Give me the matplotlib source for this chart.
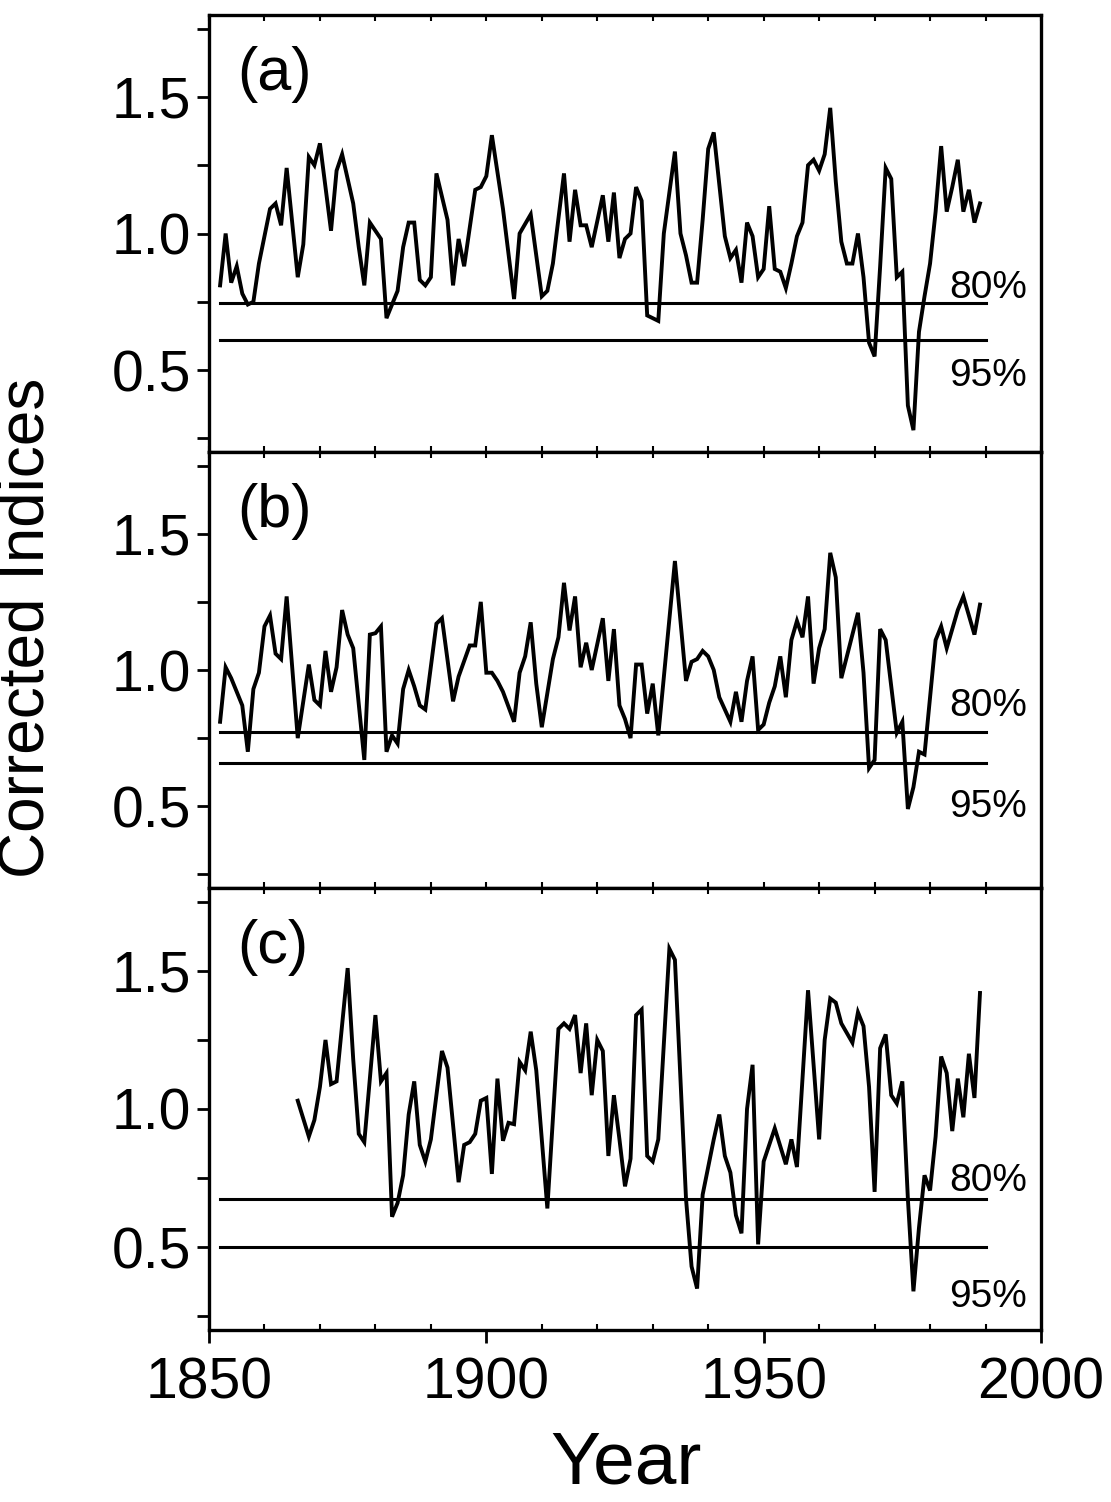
import matplotlib.pyplot as plt
from matplotlib.ticker import FixedLocator, MultipleLocator

plt.rcParams['font.family'] = ['Liberation Sans', 'DejaVu Sans']

# Panel (a)
years_a = [1852, 1853, 1854, 1855, 1856, 1857, 1858, 1859, 1861, 1862, 1863, 1864,
           1866, 1867, 1868, 1869, 1870, 1872, 1873, 1874, 1876, 1877, 1878, 1879,
           1881, 1882, 1884, 1885, 1886, 1887, 1888, 1889, 1890, 1891, 1893, 1894,
           1895, 1896, 1898, 1899, 1900, 1901, 1903, 1905, 1906, 1908, 1910, 1911,
           1912, 1914, 1915, 1916, 1917, 1918, 1919, 1921, 1922, 1923, 1924, 1925,
           1926, 1927, 1928, 1929, 1931, 1932, 1934, 1935, 1936, 1937, 1938, 1939,
           1940, 1941, 1942, 1943, 1944, 1945, 1946, 1947, 1948, 1949, 1950, 1951,
           1952, 1953, 1954, 1955, 1956, 1957, 1958, 1959, 1960, 1961, 1962, 1963,
           1964, 1965, 1966, 1967, 1968, 1969, 1970, 1971, 1972, 1973, 1974, 1975,
           1976, 1977, 1978, 1979, 1980, 1981, 1982, 1983, 1984, 1985, 1986, 1987,
           1988, 1989]
index_a = [0.81, 1.00, 0.82, 0.88, 0.78, 0.74, 0.75, 0.89, 1.09, 1.11, 1.03, 1.24,
           0.84, 0.96, 1.28, 1.25, 1.33, 1.01, 1.23, 1.29, 1.11, 0.95, 0.81, 1.04,
           0.98, 0.69, 0.79, 0.95, 1.04, 1.04, 0.83, 0.81, 0.84, 1.22, 1.05, 0.81,
           0.98, 0.88, 1.16, 1.17, 1.21, 1.36, 1.09, 0.76, 1.00, 1.07, 0.77, 0.79,
           0.89, 1.22, 0.97, 1.16, 1.03, 1.03, 0.95, 1.14, 0.97, 1.15, 0.91, 0.98,
           1.00, 1.17, 1.12, 0.70, 0.68, 1.00, 1.30, 1.00, 0.92, 0.82, 0.82, 1.05,
           1.31, 1.37, 1.18, 0.99, 0.91, 0.94, 0.82, 1.04, 0.99, 0.84, 0.87, 1.10,
           0.87, 0.86, 0.80, 0.89, 0.99, 1.04, 1.25, 1.27, 1.23, 1.29, 1.46, 1.19,
           0.97, 0.89, 0.89, 1.00, 0.84, 0.60, 0.55, 0.88, 1.24, 1.20, 0.84, 0.86,
           0.37, 0.28, 0.64, 0.77, 0.89, 1.08, 1.32, 1.08, 1.17, 1.27, 1.08, 1.16,
           1.04, 1.11]

# Panel (b)
years_b = [1852, 1853, 1854, 1855, 1856, 1857, 1858, 1859, 1860, 1861, 1862, 1863,
           1864, 1866, 1868, 1869, 1870, 1871, 1872, 1873, 1874, 1875, 1876, 1878,
           1879, 1880, 1881, 1882, 1883, 1884, 1885, 1886, 1887, 1888, 1889, 1891,
           1892, 1894, 1895, 1897, 1898, 1899, 1900, 1901, 1902, 1903, 1905, 1906,
           1907, 1908, 1909, 1910, 1912, 1913, 1914, 1915, 1916, 1917, 1918, 1919,
           1921, 1922, 1923, 1924, 1925, 1926, 1927, 1928, 1929, 1930, 1931, 1934,
           1936, 1937, 1938, 1939, 1940, 1941, 1942, 1944, 1945, 1946, 1947, 1948,
           1949, 1950, 1951, 1952, 1953, 1954, 1955, 1956, 1957, 1958, 1959, 1960,
           1961, 1962, 1963, 1964, 1967, 1968, 1969, 1970, 1971, 1972, 1974, 1975,
           1976, 1977, 1978, 1979, 1981, 1982, 1983, 1985, 1986, 1988, 1989]
index_b = [0.81, 1.01, 0.97, 0.92, 0.87, 0.70, 0.93, 0.99, 1.16, 1.20, 1.06, 1.04,
           1.27, 0.75, 1.02, 0.89, 0.87, 1.07, 0.92, 1.01, 1.22, 1.13, 1.08, 0.67,
           1.13, 1.135, 1.16, 0.70, 0.76, 0.73, 0.93, 1.00, 0.94, 0.87, 0.855, 1.17,
           1.19, 0.885, 0.976, 1.09, 1.09, 1.25, 0.99, 0.99, 0.96, 0.92, 0.81, 0.99,
           1.05, 1.175, 0.95, 0.79, 1.04, 1.12, 1.32, 1.145, 1.27, 1.01, 1.10, 1.00,
           1.19, 0.96, 1.15, 0.87, 0.82, 0.75, 1.02, 1.02, 0.84, 0.95, 0.76, 1.40,
           0.96, 1.03, 1.04, 1.07, 1.05, 1.00, 0.90, 0.81, 0.92, 0.81, 0.96, 1.05,
           0.78, 0.80, 0.88, 0.94, 1.05, 0.90, 1.11, 1.18, 1.12, 1.27, 0.95, 1.08,
           1.15, 1.43, 1.34, 0.97, 1.21, 0.99, 0.64, 0.67, 1.15, 1.11, 0.77, 0.81,
           0.49, 0.57, 0.70, 0.69, 1.11, 1.16, 1.08, 1.22, 1.27, 1.13, 1.24]

# Panel (c)
years_c = [1866, 1868, 1869, 1870, 1871, 1872, 1873, 1875, 1876, 1877, 1878, 1880,
           1881, 1882, 1883, 1884, 1885, 1886, 1887, 1888, 1889, 1890, 1892, 1893,
           1895, 1896, 1897, 1898, 1899, 1900, 1901, 1902, 1903, 1904, 1905, 1906,
           1907, 1908, 1909, 1911, 1913, 1914, 1915, 1916, 1917, 1918, 1919, 1920,
           1921, 1922, 1923, 1924, 1925, 1926, 1927, 1928, 1929, 1930, 1931, 1933,
           1934, 1936, 1937, 1938, 1939, 1941, 1942, 1943, 1944, 1945, 1946, 1947,
           1948, 1949, 1950, 1951, 1952, 1954, 1955, 1956, 1958, 1960, 1961, 1962,
           1963, 1964, 1966, 1967, 1968, 1969, 1970, 1971, 1972, 1973, 1974, 1975,
           1976, 1977, 1978, 1979, 1980, 1981, 1982, 1983, 1984, 1985, 1986, 1987,
           1988, 1989]
index_c = [1.03, 0.90, 0.96, 1.08, 1.25, 1.09, 1.10, 1.51, 1.18, 0.91, 0.88, 1.34,
           1.10, 1.13, 0.61, 0.66, 0.76, 0.98, 1.10, 0.87, 0.81, 0.89, 1.21, 1.15,
           0.735, 0.87, 0.88, 0.91, 1.03, 1.04, 0.765, 1.11, 0.885, 0.95, 0.945, 1.17,
           1.14, 1.28, 1.14, 0.64, 1.29, 1.31, 1.29, 1.34, 1.13, 1.31, 1.05, 1.25,
           1.21, 0.83, 1.05, 0.89, 0.72, 0.82, 1.34, 1.36, 0.83, 0.81, 0.89, 1.58,
           1.54, 0.675, 0.43, 0.35, 0.69, 0.89, 0.98, 0.83, 0.77, 0.615, 0.55, 1.00,
           1.16, 0.51, 0.81, 0.87, 0.93, 0.80, 0.89, 0.79, 1.43, 0.89, 1.25, 1.40,
           1.385, 1.31, 1.24, 1.35, 1.30, 1.08, 0.70, 1.22, 1.27, 1.05, 1.02, 1.10,
           0.675, 0.34, 0.57, 0.76, 0.705, 0.90, 1.19, 1.13, 0.92, 1.11, 0.97, 1.20,
           1.04, 1.42]

panel_names = ['(a)', '(b)', '(c)']
level_80 = [0.745, 0.773, 0.673]
level_95 = [0.610, 0.660, 0.500]
level_span = [1852, 1990]

series = [(years_a, index_a), (years_b, index_b), (years_c, index_c)]

fig = plt.figure(figsize=(11.11, 15.02), dpi=100)

# axes boxes in pixels: top, bottom
boxes = [(15, 452), (452, 888), (888, 1330)]
left_px, right_px = 209, 1041
# where the 80% / 95% labels sit (data y)
lab80_y = [0.763, 0.830, 0.704]
lab95_y = [0.544, 0.565, 0.386]

for i, (top, bot) in enumerate(boxes):
    ax = fig.add_axes([left_px / 1111, 1 - bot / 1502,
                       (right_px - left_px) / 1111, (bot - top) / 1502])
    yrs, vals = series[i]
    ax.plot(yrs, vals, color='black', lw=2.8, solid_joinstyle='miter')
    ax.plot(level_span, [level_80[i]] * 2, color='black', lw=2.2)
    ax.plot(level_span, [level_95[i]] * 2, color='black', lw=2.2)

    ax.set_xlim(1850, 2000)
    ax.set_ylim(0.2, 1.8)
    for sp in ax.spines.values():
        sp.set_linewidth(2.4)

    ax.yaxis.set_major_locator(FixedLocator([0.5, 1.0, 1.5]))
    ax.yaxis.set_minor_locator(FixedLocator([0.25, 0.75, 1.25, 1.75]))
    ax.set_yticklabels(['0.5', '1.0', '1.5'])
    ax.tick_params(axis='y', which='both', direction='out', length=9, width=2,
                   labelsize=41, pad=4)

    ax.xaxis.set_major_locator(MultipleLocator(50))
    ax.xaxis.set_minor_locator(MultipleLocator(10))
    ax.tick_params(axis='x', which='minor', direction='in', top=True,
                   length=4, width=1.5)
    if i < 2:
        ax.tick_params(axis='x', which='major', direction='in', top=True,
                       length=4, width=1.5, labelbottom=False)
    else:
        ax.tick_params(axis='x', which='major', direction='out', top=False,
                       length=9, width=2, labelsize=41, pad=10)

    ax.text(0.034, 0.93, panel_names[i], transform=ax.transAxes,
            fontsize=44, ha='left', va='top')
    ax.text(0.983, lab80_y[i], '80%', transform=ax.get_yaxis_transform(),
            fontsize=28, ha='right', va='baseline')
    ax.text(0.983, lab95_y[i], '95%', transform=ax.get_yaxis_transform(),
            fontsize=28, ha='right', va='top')

fig.text(27 / 1111, 1 - 628 / 1502, 'Corrected Indices', rotation=90,
         fontsize=46, ha='center', va='center')
fig.text(626 / 1111, 1 - 1484 / 1502, 'Year', fontsize=54,
         ha='center', va='baseline')

fig.savefig('out.png', dpi=100)
